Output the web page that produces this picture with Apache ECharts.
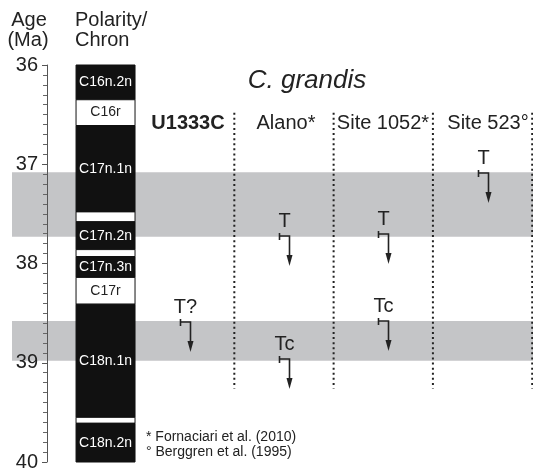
<!DOCTYPE html>
<html><head><meta charset="utf-8">
<script src="https://cdn.jsdelivr.net/npm/echarts@6/dist/echarts.min.js"></script>
<style>html,body{margin:0;padding:0;background:#fff}#c{width:533px;height:472px}</style>
</head><body><div id="c"></div>
<script>
// ---------------- data ----------------
const ageMin = 36, ageMax = 40, ageStep = 1;

// Magnetic polarity chrons (top / base ages in Ma)
const chronNames    = ['C16n.2n','C16r','C17n.1n','','C17n.2n','','C17n.3n','C17r','C18n.1n','','C18n.2n'];
const chronTop      = [36.00, 36.35, 36.61, 37.48, 37.58, 37.86, 37.93, 38.14, 38.41, 39.55, 39.61];
const chronBase     = [36.35, 36.61, 37.48, 37.58, 37.86, 37.93, 38.14, 38.41, 39.55, 39.61, 40.00];
const chronPolarity = ['n','r','n','r','n','r','n','r','n','r','n'];

// Grey correlation bands
const bandTop  = [37.08, 38.58];
const bandBase = [37.73, 38.98];

// Sites (columns)
const sites = ['U1333C', 'Alano*', 'Site 1052*', 'Site 523°'];

// Biostratigraphic events of C. grandis
const eventSite  = ['U1333C', 'Alano*', 'Alano*', 'Site 1052*', 'Site 1052*', 'Site 523°'];
const eventLabel = ['T?', 'T', 'Tc', 'T', 'Tc', 'T'];
const eventAge   = [38.59, 37.72, 38.96, 37.70, 38.58, 37.09];

// Footnotes
const notes = ['* Fornaciari et al. (2010)', '° Berggren et al. (1995)'];

// ---------------- layout ----------------
const FONT = '"Liberation Sans", Arial, Helvetica, sans-serif';
const INK = '#222';
const X_MIN = -1.239, X_MAX = 4.008;     // column units (1 unit = one site column)
const POL_X = [-0.594, 0];               // polarity column span
const SEP_AGE = [36.48, 39.26];          // vertical extent of dotted separators
const headerX = [188, 286, 383, 488];

const chart = echarts.init(document.getElementById('c'), null, {renderer: 'canvas'});

const bandSeries = {
  type: 'custom', z: 1, silent: true,
  data: bandTop.map((t, i) => [X_MIN, t, bandBase[i]]),
  renderItem: (params, api) => {
    const p1 = api.coord([X_MIN, api.value(1)]);
    const p2 = api.coord([X_MAX, api.value(2)]);
    return {type: 'rect', shape: {x: p1[0], y: p1[1], width: p2[0] - p1[0], height: p2[1] - p1[1]},
            style: {fill: '#c4c5c7'}};
  }
};

const polaritySeries = {
  type: 'custom', z: 5, silent: true,
  data: chronNames.map((n, i) => [POL_X[0], chronTop[i], chronBase[i]]),
  renderItem: (params, api) => {
    const i = params.dataIndex;
    const p1 = api.coord([POL_X[0], api.value(1)]);
    const p2 = api.coord([POL_X[1], api.value(2)]);
    const normal = chronPolarity[i] === 'n';
    const children = [{type: 'rect',
      shape: {x: p1[0], y: p1[1], width: p2[0] - p1[0], height: p2[1] - p1[1]},
      style: {fill: normal ? '#111' : '#fff', stroke: '#111', lineWidth: 1}}];
    if (chronNames[i]) {
      children.push({type: 'text', style: {
        text: chronNames[i], x: (p1[0] + p2[0]) / 2, y: (p1[1] + p2[1]) / 2,
        align: 'center', verticalAlign: 'middle', fontSize: 14, fontFamily: FONT,
        fill: normal ? '#fff' : INK}});
    }
    return {type: 'group', children};
  }
};

const sepSeries = {
  type: 'custom', z: 3, silent: true,
  data: sites.map((s, k) => [k + 1, SEP_AGE[0]]),
  renderItem: (params, api) => {
    const a = api.coord([api.value(0), SEP_AGE[0]]);
    const b = api.coord([api.value(0), SEP_AGE[1]]);
    return {type: 'line', shape: {x1: a[0], y1: a[1], x2: b[0], y2: b[1]},
            style: {stroke: INK, lineWidth: 2, lineDash: [2, 3.1]}};
  }
};

const eventSeries = {
  type: 'custom', z: 6, silent: true,
  data: eventAge.map((a, i) => [sites.indexOf(eventSite[i]) + 0.45, a]),
  renderItem: (params, api) => {
    const i = params.dataIndex;
    const p = api.coord([api.value(0), api.value(1)]);
    const x = Math.round(p[0]) + 0.5, y = Math.round(p[1]);
    const st = {stroke: INK, lineWidth: 1.6, fill: null};
    return {type: 'group', children: [
      {type: 'line', shape: {x1: x, y1: y - 3, x2: x, y2: y + 4}, style: st},
      {type: 'polyline', shape: {points: [[x, y], [x + 10, y], [x + 10, y + 22]]}, style: st},
      {type: 'polygon', shape: {points: [[x + 7, y + 19], [x + 13, y + 19], [x + 10, y + 30]]},
       style: {fill: INK}},
      {type: 'text', style: {text: eventLabel[i], x: x + 5, y: y - 5, align: 'center',
        verticalAlign: 'bottom', fontSize: 20, fontFamily: FONT, fill: INK}}
    ]};
  }
};

const txt = (text, x, y, o) => Object.assign({type: 'text', z: 10, style: Object.assign({
  text, x, y, fontFamily: FONT, fontSize: 20, fill: INK, align: 'left', verticalAlign: 'middle'}, o || {})});

const graphics = [
  txt('Age', 29, 20, {align: 'center'}),
  txt('(Ma)', 28, 40, {align: 'center'}),
  txt('Polarity/', 75, 20),
  txt('Chron', 75, 40),
  txt('C. grandis', 307, 81, {align: 'center', fontSize: 26, fontStyle: 'italic'}),
  ...sites.map((s, k) => txt(s, headerX[k], 123.5, {align: 'center', fontWeight: k === 0 ? 'bold' : 'normal'})),
  ...notes.map((n, k) => txt(n, 146, 437 + k * 15.5, {fontSize: 14}))
];

chart.setOption({
  animation: false,
  backgroundColor: '#fff',
  grid: {left: 12, right: 0, top: 65, bottom: 8, containLabel: false},
  xAxis: {type: 'value', min: X_MIN, max: X_MAX, show: false},
  yAxis: {
    type: 'value', inverse: true, min: ageMin, max: ageMax, interval: ageStep,
    position: 'left', offset: -35, z: 4,
    axisLine: {show: true, onZero: false, lineStyle: {color: '#555', width: 1}},
    axisTick: {show: true, inside: false, length: 5, lineStyle: {color: '#555'}},
    minorTick: {show: true, splitNumber: 10, length: 4, lineStyle: {color: '#666'}},
    splitLine: {show: false},
    axisLabel: {fontSize: 20, fontFamily: FONT, color: INK, margin: 9}
  },
  series: [bandSeries, sepSeries, polaritySeries, eventSeries],
  graphic: graphics
});
</script></body></html>
